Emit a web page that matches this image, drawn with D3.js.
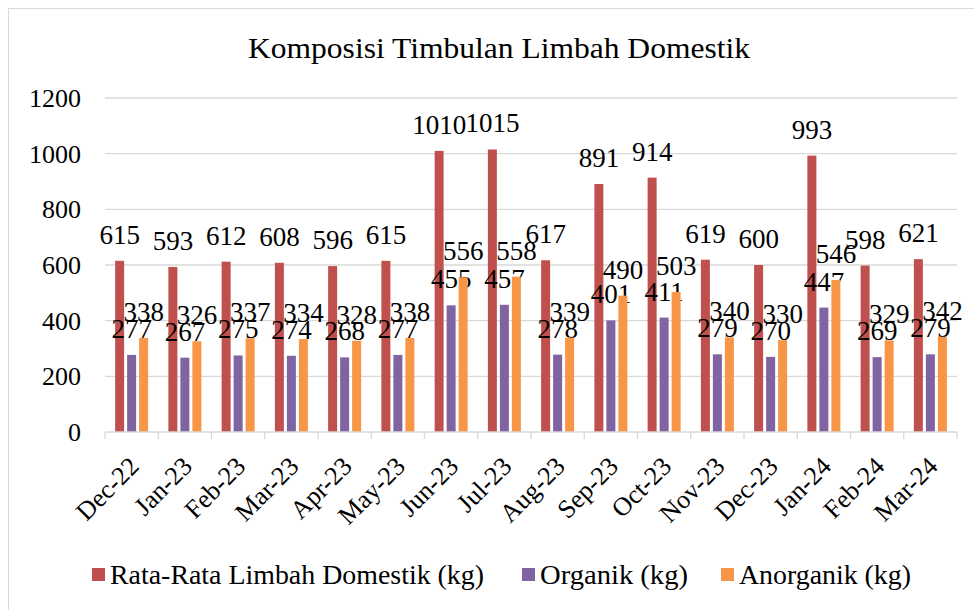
<!DOCTYPE html>
<html>
<head>
<meta charset="utf-8">
<script src="https://cdn.jsdelivr.net/npm/d3@7"></script>
<style>
  body { margin: 0; background: #fff; }
</style>
</head>
<body>
<svg id="chart" width="974" height="610"></svg>
<script>
// data
const months = ["Dec-22","Jan-23","Feb-23","Mar-23","Apr-23","May-23","Jun-23","Jul-23",
                "Aug-23","Sep-23","Oct-23","Nov-23","Dec-23","Jan-24","Feb-24","Mar-24"];
const rataRata = [615,593,612,608,596,615,1010,1015,617,891,914,619,600,993,598,621];
const organik = [277,267,275,274,268,277,455,457,278,401,411,279,270,447,269,279];
const anorganik = [338,326,337,334,328,338,556,558,339,490,503,340,330,546,329,342];
const seriesNames = ["Rata-Rata Limbah Domestik (kg)", "Organik (kg)", "Anorganik (kg)"];
const seriesColors = ["#C0504D", "#8064A2", "#F79646"];
const yTicks = [0,200,400,600,800,1000,1200];

const fontFam = "'Liberation Serif', Tinos, 'Noto Serif', 'Nimbus Roman', FreeSerif, 'DejaVu Serif', serif";

let svg = d3.select('#chart')
    .attr('font-family', fontFam)
    .style('font-family', fontFam);

// chart border
svg.append('rect')
    .attr('x', 8.5).attr('y', 8.5)
    .attr('width', 990).attr('height', 640)
    .attr('fill', 'none').attr('stroke', '#d9d9d9');

const plotLeft = 105, plotRight = 957, plotTop = 98, plotBottom = 432;

let x = d3.scaleBand().domain(months).range([plotLeft, plotRight]).padding(0);
let y = d3.scaleLinear().domain([0, 1200]).range([plotBottom, plotTop]);

// gridlines
svg.append('g').selectAll('line')
    .data(yTicks.slice(1))
    .join('line')
    .attr('x1', plotLeft).attr('x2', plotRight)
    .attr('y1', d => y(d)).attr('y2', d => y(d))
    .attr('stroke', '#d9d9d9').attr('stroke-width', 1.3);

// y axis labels
svg.append('g').selectAll('text')
    .data(yTicks)
    .join('text')
    .attr('x', 81)
    .attr('y', d => y(d))
    .attr('dy', '0.35em')
    .attr('text-anchor', 'end')
    .attr('font-size', 26)
    .text(d => d);

// bars
const series = [rataRata, organik, anorganik];
const barW = 9, gap = 3;
let inner = d3.scaleBand().domain([0,1,2])
    .range([0, 3*barW + 2*gap]).paddingInner(gap / (barW + gap));

series.forEach((vals, s) => {
    let g = svg.append('g');
    let off = (x.bandwidth() - (3*barW + 2*gap)) / 2;
    g.selectAll('rect')
        .data(vals)
        .join('rect')
        .attr('x', (d, i) => x(months[i]) + off + inner(s))
        .attr('y', d => y(d))
        .attr('width', inner.bandwidth())
        .attr('height', d => plotBottom - y(d))
        .attr('fill', seriesColors[s]);
    g.selectAll('text')
        .data(vals)
        .join('text')
        .attr('x', (d, i) => x(months[i]) + off + inner(s) + inner.bandwidth()/2)
        .attr('y', d => y(d) - 17)
        .attr('text-anchor', 'middle')
        .attr('font-size', 27)
        .text(d => d);
});

// x axis
let xAxis = svg.append('g');
xAxis.append('line')
    .attr('x1', plotLeft).attr('x2', plotRight)
    .attr('y1', plotBottom).attr('y2', plotBottom)
    .attr('stroke', '#d9d9d9').attr('stroke-width', 1.3);
xAxis.selectAll('line.tick')
    .data(months.concat(['end']))
    .join('line')
    .attr('class', 'tick')
    .attr('x1', (d, i) => plotLeft + i * x.bandwidth())
    .attr('x2', (d, i) => plotLeft + i * x.bandwidth())
    .attr('y1', plotBottom).attr('y2', plotBottom + 7)
    .attr('stroke', '#d9d9d9').attr('stroke-width', 1.3);
xAxis.selectAll('text')
    .data(months)
    .join('text')
    .attr('transform', d => `translate(${x(d) + x.bandwidth()/2 - 4},${plotBottom + 23}) rotate(-45)`)
    .attr('text-anchor', 'end')
    .attr('dy', '0.7em')
    .attr('font-size', 26)
    .text(d => d);

// title
svg.append('text')
    .attr('x', 499).attr('y', 58)
    .attr('text-anchor', 'middle')
    .attr('font-size', 30)
    .attr('textLength', 502)
    .attr('lengthAdjust', 'spacingAndGlyphs')
    .text('Komposisi Timbulan Limbah Domestik');

// legend
const legendX = [92, 522, 721];
const legendLen = [374, 148, 172];
let legend = svg.append('g').selectAll('g')
    .data(seriesNames)
    .join('g')
    .attr('transform', (d, i) => `translate(${legendX[i]},575)`);
legend.append('rect')
    .attr('x', 0).attr('y', -7)
    .attr('width', 13).attr('height', 13)
    .attr('fill', (d, i) => seriesColors[i]);
legend.append('text')
    .attr('x', 18).attr('y', 0)
    .attr('dy', '0.35em')
    .attr('font-size', 27)
    .attr('textLength', (d, i) => legendLen[i])
    .attr('lengthAdjust', 'spacingAndGlyphs')
    .text(d => d);
</script>
</body>
</html>
